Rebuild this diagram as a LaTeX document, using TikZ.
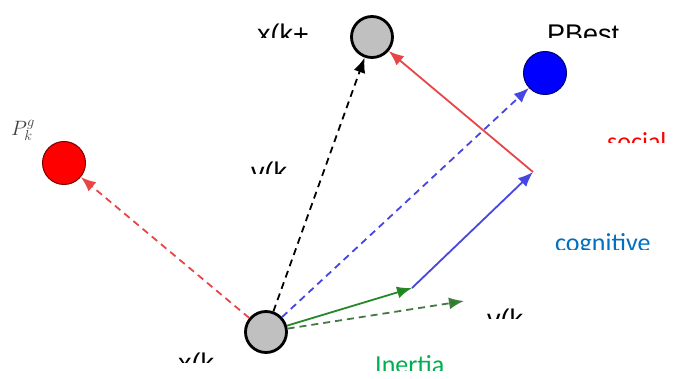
\documentclass[tikz,border=0pt]{standalone}
\usepackage{fontspec}
\setmainfont{Liberation Sans}
\newfontfamily\carl{Carlito}
\usetikzlibrary{arrows.meta}
\definecolor{gfill}{RGB}{192,192,192}
\definecolor{redl}{RGB}{232,70,70}
\definecolor{bluel}{RGB}{70,70,225}
\definecolor{greenl}{RGB}{40,135,40}
\definecolor{greentip}{RGB}{20,140,20}
\definecolor{greend}{RGB}{70,120,70}
\definecolor{cogblue}{RGB}{0,112,192}
\definecolor{inergreen}{RGB}{0,176,80}
\definecolor{navy}{RGB}{0,0,110}
\definecolor{darkred}{RGB}{120,0,0}
\tikzset{
  gpart/.style={circle,draw=black,line width=2.8pt,fill=gfill,minimum size=41pt,inner sep=0pt},
  rpart/.style={circle,draw=darkred,line width=1pt,fill=red,minimum size=43pt,inner sep=0pt},
  bpart/.style={circle,draw=navy,line width=1pt,fill=blue,minimum size=43pt,inner sep=0pt},
  conn/.style={line width=1.8pt,-{Latex[length=15pt,width=12pt]}},
  dsh/.style={dash pattern=on 7pt off 5pt},
  lbl/.style={anchor=base west,inner sep=0pt,font=\fontsize{27}{30}\selectfont},
  clbl/.style={anchor=base west,inner sep=0pt,font=\carl\fontsize{26}{30}\selectfont},
}
\begin{document}
\begin{tikzpicture}[x=1pt,y=-1pt]
\useasboundingbox (0,0) rectangle (677,379);
\fill[white] (0,0) rectangle (677,379);

\node[gpart] (xk) at (266,332) {};
\node[gpart] (xk1) at (372,37) {};
\node[rpart] (pg) at (64,163) {};
\node[bpart] (pb) at (545,73) {};
\coordinate (gj) at (412,288);
\coordinate (bj) at (533,172);
\coordinate (gd) at (464,301);

\node[anchor=base west,inner sep=0pt,text=black!75] (pglbl) at (11,136) {\fontsize{22}{24}\selectfont$P_k^g$};

\draw[conn,dsh,redl] (xk) -- (pg);
\draw[conn,dsh,black] (xk) -- (xk1);
\draw[conn,dsh,bluel] (xk) -- (pb);
\draw[conn,greenl,-{Latex[length=15pt,width=12pt,fill=greentip]}] (xk) -- (gj);
\draw[conn,bluel] (gj) -- (bj);
\draw[conn,redl] (bj) -- (xk1);
\draw[conn,dsh,greend,-{Latex[length=15pt,width=12pt,fill=greentip]}] (xk) -- (gd);

\begin{scope}\clip (240,10) rectangle (309.5,37.5);
\node[lbl] (t1) at (257,44) {x(k+1)};\end{scope}
\begin{scope}\clip (540,10) rectangle (640,37.5);
\node[lbl] (t2) at (547,44) {PBest};\end{scope}
\begin{scope}\clip (240,150) rectangle (286,173.5);
\node[lbl] (t3) at (251,182) {v(k)};\end{scope}
\begin{scope}\clip (480,295) rectangle (522,318.5);
\node[lbl] (t4) at (487,328) {v(k)};\end{scope}
\begin{scope}\clip (170,340) rectangle (213,362);
\node[lbl] (t5) at (178,372) {x(k)};\end{scope}
\begin{scope}\clip (600,120) rectangle (677,143);
\node[clbl,text=red] (t6) at (607,151) {social};\end{scope}
\begin{scope}\clip (540,220) rectangle (677,250);
\node[clbl,text=cogblue] (t7) at (555,252) {cognitive};\end{scope}
\begin{scope}\clip (360,340) rectangle (480,370);
\node[clbl,text=inergreen] (t8) at (375,373) {Inertia};\end{scope}
\end{tikzpicture}
\end{document}
